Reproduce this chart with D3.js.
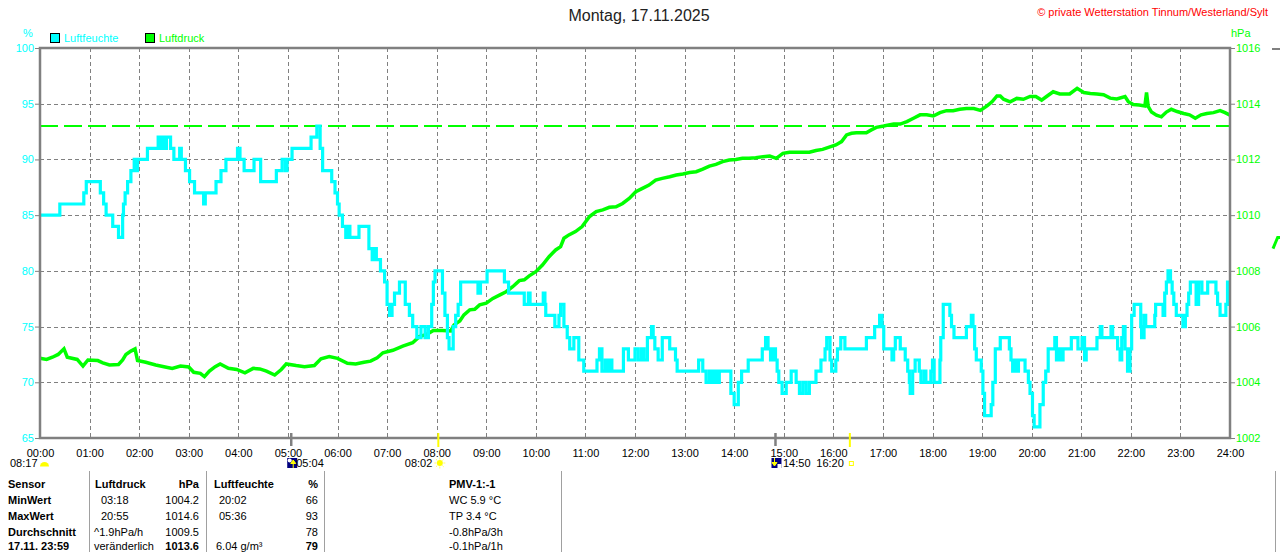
<!DOCTYPE html>
<html>
<head>
<meta charset="utf-8">
<script src="https://cdn.jsdelivr.net/npm/d3@7/dist/d3.min.js"></script>
<style>
	body { margin: 0; background: #fff; }
	svg { display: block; font-family: "Liberation Sans", Arial, sans-serif; }
</style>
</head>
<body>
<svg id="chart" width="1280" height="552"></svg>
<script>
'use strict';

// Luftfeuchte in %, step points [minute of day, value]
var humidity = [
	[0,85],[24,86],[53,87],[56,88],[73,87],[77,86],[80,85],[88,84],[95,83],[100,85],[101,86],[103,87],
	[106,88],[110,89],[114,90],[116,89],[118,90],[130,91],[143,92],[146,91],[148,92],[151,91],[153,92],
	[158,91],[162,90],[169,91],[171,90],[176,89],[181,88],[187,87],[198,86],[200,87],[213,88],[219,89],
	[225,90],[239,91],[242,90],[247,89],[259,90],[267,88],[286,89],[293,90],[297,89],[299,90],[305,91],
	[328,92],[335,93],[339,91],[342,89],[353,88],[357,87],[360,86],[362,85],[366,84],[370,83],[373,84],
	[375,83],[386,84],[398,82],[402,81],[405,82],[407,81],[412,80],[417,79],[420,77],[423,76],[426,77],
	[429,78],[435,79],[442,77],[447,76],[451,75],[456,74],[461,75],[466,74],[470,75],[474,77],[476,79],
	[478,80],[487,78],[490,76],[493,74],[495,73],[500,75],[503,76],[506,77],[509,79],[530,78],[533,79],
	[541,80],[562,79],[567,78],[586,77],[591,78],[593,77],[609,78],[611,77],[612,76],[623,75],[628,76],
	[630,77],[634,75],[638,74],[641,73],[646,74],[652,72],[658,71],[674,72],[677,73],[680,71],[684,72],
	[687,71],[690,72],[692,71],[706,73],[712,72],[720,73],[724,72],[728,73],[731,72],[735,74],[740,75],
	[742,74],[744,73],[748,72],[753,74],[762,73],[769,72],[771,71],[797,72],[802,71],[806,70],[810,71],
	[813,70],[816,71],[819,70],[822,71],[836,69],[840,68],[845,70],[849,71],[857,72],[874,73],[878,74],
	[881,73],[884,72],[887,73],[890,72],[892,71],[894,70],[898,69],[903,70],[909,71],[915,70],[919,69],
	[923,70],[927,69],[931,70],[939,71],[945,72],[950,73],[952,74],[956,72],[958,71],[963,72],[965,73],
	[969,74],[974,73],[1000,74],[1010,75],[1016,76],[1019,75],[1021,73],[1031,72],[1033,73],[1035,74],
	[1041,73],[1047,72],[1050,71],[1052,70],[1053,69],[1056,71],[1059,72],[1064,71],[1066,70],[1070,71],
	[1072,70],[1078,71],[1080,72],[1082,70],[1089,72],[1090,74],[1093,77],[1101,76],[1103,75],[1106,74],
	[1121,75],[1127,76],[1129,75],[1131,73],[1133,72],[1139,71],[1141,69],[1143,67],[1151,68],[1153,70],
	[1156,73],[1162,74],[1173,73],[1175,72],[1177,71],[1180,72],[1182,71],[1184,72],[1192,71],[1196,70],
	[1198,69],[1201,67],[1203,66],[1210,68],[1214,70],[1217,71],[1220,73],[1228,74],[1230,72],[1233,73],
	[1236,72],[1238,73],[1248,74],[1256,73],[1261,74],[1264,72],[1266,73],[1279,74],[1283,75],[1285,74],
	[1296,75],[1298,74],[1304,73],[1307,72],[1309,74],[1311,75],[1313,73],[1316,71],[1319,73],[1321,76],
	[1324,77],[1332,75],[1333,74],[1336,76],[1338,75],[1349,76],[1350,77],[1359,76],[1361,78],[1363,79],
	[1365,80],[1368,79],[1370,78],[1372,77],[1375,76],[1383,75],[1386,76],[1388,77],[1390,78],[1392,79],
	[1399,77],[1402,79],[1406,78],[1413,79],[1423,78],[1425,77],[1428,76],[1435,77],[1437,79],[1440,79]
];

// Luftdruck in hPa, [minute of day, value]
var pressure = [
	[0,1004.86],[8,1004.82],[15,1004.9],[22,1005.0],[29,1005.2],[33,1004.9],[45,1004.82],[52,1004.58],
	[58,1004.8],[70,1004.78],[76,1004.7],[84,1004.62],[95,1004.64],[100,1004.8],[104,1005.0],[110,1005.12],
	[115,1005.2],[118,1004.78],[128,1004.72],[140,1004.62],[150,1004.56],[160,1004.5],[170,1004.58],
	[180,1004.55],[186,1004.36],[194,1004.32],[199,1004.2],[205,1004.4],[212,1004.56],[218,1004.66],
	[228,1004.5],[238,1004.46],[248,1004.34],[258,1004.5],[266,1004.48],[274,1004.4],[284,1004.26],
	[292,1004.46],[298,1004.66],[310,1004.6],[320,1004.56],[332,1004.6],[340,1004.84],[350,1004.92],
	[360,1004.86],[372,1004.68],[382,1004.66],[392,1004.72],[400,1004.76],[408,1004.88],[415,1005.06],
	[427,1005.15],[439,1005.3],[451,1005.42],[459,1005.64],[468,1005.72],[476,1005.86],[487,1005.86],
	[497,1005.84],[501,1006.06],[508,1006.2],[513,1006.42],[520,1006.6],[526,1006.62],[532,1006.78],
	[540,1006.84],[548,1007.01],[556,1007.13],[564,1007.25],[572,1007.43],[580,1007.65],[586,1007.68],
	[592,1007.82],[600,1007.97],[608,1008.21],[616,1008.51],[624,1008.75],[630,1008.87],[634,1009.17],
	[640,1009.29],[648,1009.41],[656,1009.59],[665,1009.95],[673,1010.13],[681,1010.19],[689,1010.28],
	[697,1010.3],[705,1010.42],[713,1010.6],[721,1010.84],[729,1010.96],[737,1011.08],[745,1011.26],
	[753,1011.32],[762,1011.38],[770,1011.44],[778,1011.48],[786,1011.53],[794,1011.56],[802,1011.65],
	[810,1011.76],[818,1011.82],[826,1011.92],[834,1011.98],[842,1012.0],[850,1012.04],[858,1012.04],
	[866,1012.06],[875,1012.1],[883,1012.12],[891,1012.04],[899,1012.22],[907,1012.26],[915,1012.26],
	[923,1012.26],[931,1012.26],[939,1012.32],[947,1012.36],[955,1012.44],[963,1012.52],[970,1012.64],
	[976,1012.88],[982,1012.94],[988,1012.96],[1000,1012.96],[1006,1013.06],[1012,1013.15],[1021,1013.2],
	[1027,1013.24],[1033,1013.27],[1041,1013.27],[1049,1013.36],[1057,1013.48],[1065,1013.6],[1073,1013.6],
	[1081,1013.56],[1089,1013.68],[1097,1013.75],[1105,1013.75],[1113,1013.8],[1121,1013.83],[1130,1013.83],
	[1138,1013.76],[1146,1013.92],[1152,1014.07],[1158,1014.28],[1162,1014.28],[1166,1014.16],[1174,1014.07],
	[1182,1014.19],[1190,1014.16],[1198,1014.26],[1205,1014.26],[1212,1014.13],[1218,1014.26],[1226,1014.43],
	[1234,1014.35],[1246,1014.35],[1255,1014.55],[1263,1014.4],[1271,1014.37],[1279,1014.35],[1287,1014.32],
	[1295,1014.2],[1303,1014.17],[1313,1014.26],[1317,1014.07],[1323,1013.97],[1330,1013.95],[1337,1013.92],
	[1339,1014.4],[1341,1013.9],[1345,1013.7],[1351,1013.59],[1357,1013.53],[1363,1013.7],[1369,1013.8],
	[1376,1013.72],[1384,1013.65],[1391,1013.6],[1398,1013.48],[1405,1013.6],[1412,1013.65],[1420,1013.68],
	[1428,1013.75],[1434,1013.68],[1440,1013.59]
];

var reference_pressure = 1013.2;

var hour_labels = ['00:00','01:00','02:00','03:00','04:00','05:00','06:00','07:00','08:00','09:00',
	'10:00','11:00','12:00','13:00','14:00','15:00','16:00','17:00','18:00','19:00','20:00','21:00',
	'22:00','23:00','24:00'];
var humidity_ticks = [65, 70, 75, 80, 85, 90, 95, 100];
var pressure_ticks = [1002, 1004, 1006, 1008, 1010, 1012, 1014, 1016];

// Sonne und Mond
var day_length = '08:17';
var sun_events = [['rise', '08:02'], ['set', '16:20']];
var moon_events = [['rise', '05:04'], ['set', '14:50']];

// Tabelle unter dem Diagramm
var table_rows = [
	['Sensor', 'Luftdruck', 'hPa', 'Luftfeuchte', '%', 'PMV-1:-1'],
	['MinWert', '03:18', '1004.2', '20:02', '66', 'WC 5.9 °C'],
	['MaxWert', '20:55', '1014.6', '05:36', '93', 'TP 3.4 °C'],
	['Durchschnitt', '^1.9hPa/h', '1009.5', '', '78', '-0.8hPa/3h'],
	['17.11. 23:59', 'veränderlich', '1013.6', '6.04 g/m³', '79', '-0.1hPa/1h']
];

var CYAN = '#00ffff', GREEN = '#00ff00', GRAY = '#808080';

var svg = d3.select('#chart');
var plot = { left: 40, right: 1230, top: 48, bottom: 438 };

var x_scale = d3.scaleLinear().domain([0, 1440]).range([plot.left, plot.right]);
var y_hum = d3.scaleLinear().domain([65, 100]).range([plot.bottom, plot.top]);
var y_press = d3.scaleLinear().domain([1002, 1016]).range([plot.bottom, plot.top]);

function toMinutes(hhmm) {
	var p = hhmm.split(':');
	return (+p[0]) * 60 + (+p[1]);
}

svg.append('rect').attr('width', 1280).attr('height', 552).attr('fill', '#fff');

// Titel und Copyright
svg.append('text').attr('x', 639).attr('y', 21).attr('text-anchor', 'middle')
	.attr('font-size', 16).attr('fill', '#222').text('Montag, 17.11.2025');
svg.append('text').attr('x', 1268).attr('y', 16).attr('text-anchor', 'end')
	.attr('font-size', 11).attr('fill', '#ff0000').text('© private Wetterstation Tinnum/Westerland/Sylt');

// Einheiten und Legende
svg.append('text').attr('x', 23).attr('y', 37).attr('font-size', 11).attr('fill', CYAN).text('%');
svg.append('text').attr('x', 1231).attr('y', 37).attr('font-size', 11).attr('fill', GREEN).text('hPa');

var legend = [['Luftfeuchte', CYAN, 50], ['Luftdruck', GREEN, 145]];
legend.forEach(function(l) {
	svg.append('rect').attr('x', l[2] + 0.5).attr('y', 33.5).attr('width', 9).attr('height', 9)
		.attr('fill', l[1]).attr('stroke', '#000');
	svg.append('text').attr('x', l[2] + 14).attr('y', 42).attr('font-size', 11)
		.attr('fill', l[1]).text(l[0]);
});

// Gitter
var grid = svg.append('g').attr('stroke', GRAY).attr('stroke-width', 1).attr('stroke-dasharray', '4,3');
grid.selectAll('line.v').data(hour_labels.slice(1, -1)).enter().append('line')
	.attr('x1', function(d) { return Math.round(x_scale(toMinutes(d))) + 0.5; })
	.attr('x2', function(d) { return Math.round(x_scale(toMinutes(d))) + 0.5; })
	.attr('y1', plot.top).attr('y2', plot.bottom);
grid.selectAll('line.h').data(humidity_ticks.slice(1, -1)).enter().append('line')
	.attr('x1', plot.left).attr('x2', plot.right)
	.attr('y1', function(d) { return Math.round(y_hum(d)) + 0.5; })
	.attr('y2', function(d) { return Math.round(y_hum(d)) + 0.5; });

// Referenzlinie Luftdruck
svg.append('line')
	.attr('x1', plot.left).attr('x2', plot.right)
	.attr('y1', y_press(reference_pressure)).attr('y2', y_press(reference_pressure))
	.attr('stroke', GREEN).attr('stroke-width', 2).attr('stroke-dasharray', '18,6');

// Kurven
var pressure_line = d3.line()
	.x(function(d) { return x_scale(d[0]); })
	.y(function(d) { return y_press(d[1]); });
svg.append('path').datum(pressure).attr('d', pressure_line)
	.attr('fill', 'none').attr('stroke', GREEN).attr('stroke-width', 3.5);

var humidity_line = d3.line()
	.curve(d3.curveStepAfter)
	.x(function(d) { return x_scale(d[0]); })
	.y(function(d) { return y_hum(d[1]); });
svg.append('path').datum(humidity).attr('d', humidity_line)
	.attr('fill', 'none').attr('stroke', CYAN).attr('stroke-width', 3.2);

// Rahmen
svg.append('rect').attr('x', plot.left).attr('y', plot.top)
	.attr('width', plot.right - plot.left).attr('height', plot.bottom - plot.top)
	.attr('fill', 'none').attr('stroke', GRAY).attr('stroke-width', 2.5);
svg.append('line').attr('x1', plot.left - 0.5).attr('x2', plot.left - 0.5)
	.attr('y1', plot.top).attr('y2', plot.bottom).attr('stroke', GRAY).attr('stroke-width', 1);

// Achsen
function styleAxis(g, colour) {
	g.select('.domain').remove();
	g.selectAll('line').attr('stroke', GRAY);
	g.selectAll('text').attr('fill', colour).attr('font-size', 11)
		.attr('font-family', '"Liberation Sans", Arial, sans-serif');
}

svg.append('g').attr('transform', 'translate(' + plot.left + ',0)')
	.call(d3.axisLeft(y_hum).tickValues(humidity_ticks).tickSize(5).tickPadding(1))
	.call(styleAxis, CYAN);

svg.append('g').attr('transform', 'translate(' + plot.right + ',0)')
	.call(d3.axisRight(y_press).tickValues(pressure_ticks).tickSize(5).tickPadding(1)
		.tickFormat(d3.format('d')))
	.call(styleAxis, GREEN);

svg.append('g').attr('transform', 'translate(0,' + plot.bottom + ')')
	.call(d3.axisBottom(x_scale).tickValues(hour_labels.map(toMinutes)).tickSize(0).tickPadding(11)
		.tickFormat(function(d, i) { return hour_labels[i]; }))
	.call(styleAxis, '#000');

// Sonne / Mond Markierungen
var marks = svg.append('g').attr('font-size', 11);

marks.append('text').attr('x', 10).attr('y', 467).attr('fill', '#000').text(day_length);
marks.append('path').attr('d', d3.arc()({ innerRadius: 0, outerRadius: 4.5, startAngle: -Math.PI / 2, endAngle: Math.PI / 2 }))
	.attr('transform', 'translate(44.5,466.5)').attr('fill', '#ffff00');

moon_events.forEach(function(m) {
	var xm = x_scale(toMinutes(m[1]));
	marks.append('line').attr('x1', xm).attr('x2', xm).attr('y1', 433).attr('y2', 446)
		.attr('stroke', GRAY).attr('stroke-width', 2.5);
	var icon = marks.append('g').attr('transform', 'translate(' + (xm - 4) + ',458)');
	icon.append('rect').attr('width', 10).attr('height', 10).attr('fill', '#00007f');
	if (m[0] === 'rise') {
		icon.append('circle').attr('cx', 2.5).attr('cy', 2.5).attr('r', 2).attr('fill', '#fff');
		icon.append('path').attr('d', 'M6,10V4M3.5,5.5L6,2L8.5,5.5Z').attr('stroke', '#ffff00').attr('fill', '#ffff00');
	} else {
		icon.append('rect').attr('x', 6).attr('y', 6).attr('width', 4).attr('height', 4).attr('fill', '#fff');
		icon.append('path').attr('d', 'M3,0V6M0.5,4.5L3,8L5.5,4.5Z').attr('stroke', '#ffff00').attr('fill', '#ffff00');
	}
	marks.append('text').attr('x', xm + (m[0] === 'rise' ? 5 : 7.5)).attr('y', 467).attr('fill', '#000').text(m[1]);
});

sun_events.forEach(function(s) {
	var xs = x_scale(toMinutes(s[1]));
	marks.append('line').attr('x1', xs).attr('x2', xs).attr('y1', 433).attr('y2', 447)
		.attr('stroke', '#ffff00').attr('stroke-width', 2);
	marks.append('text').attr('x', xs - 6).attr('y', 467).attr('text-anchor', 'end')
		.attr('fill', '#000').text(s[1]);
	if (s[0] === 'rise') {
		var sun = marks.append('g').attr('transform', 'translate(' + (xs + 1.5) + ',463)');
		sun.append('circle').attr('r', 3).attr('fill', '#ffff00');
		d3.range(8).forEach(function(k) {
			var a = k * Math.PI / 4;
			sun.append('line').attr('x1', Math.cos(a) * 3.5).attr('y1', Math.sin(a) * 3.5)
				.attr('x2', Math.cos(a) * 5.5).attr('y2', Math.sin(a) * 5.5)
				.attr('stroke', '#ffff66').attr('stroke-width', 1);
		});
	} else {
		marks.append('rect').attr('x', xs - 0.5).attr('y', 461.5).attr('width', 4).attr('height', 4)
			.attr('fill', 'none').attr('stroke', '#ffff00');
	}
});

// Tabelle
var col_x = [8, 95, 199, 214, 318, 449];
var col_anchor = ['start', 'start', 'end', 'start', 'end', 'start'];
var col_shift = [[0, 0, 0, 0, 0, 0], [0, 6, 0, 5, 0, 0], [0, 6, 0, 5, 0, 0], [0, -1, 0, 5, 0, 0], [0, -1, 0, 2, 0, 0]];
var row_y = [488, 504, 520, 535.5, 549.5];

var table = svg.append('g').attr('font-size', 11).attr('fill', '#000');
table_rows.forEach(function(row, r) {
	row.forEach(function(cell, c) {
		var bold = r === 0 || c === 0 || (r === table_rows.length - 1 && (c === 2 || c === 4));
		table.append('text')
			.attr('x', col_x[c] + col_shift[r][c]).attr('y', row_y[r])
			.attr('text-anchor', col_anchor[c])
			.attr('font-weight', bold ? 'bold' : 'normal')
			.text(cell);
	});
});
[89, 206, 324, 561, 1275].forEach(function(xl) {
	table.append('line').attr('x1', xl + 0.5).attr('x2', xl + 0.5).attr('y1', 471).attr('y2', 552)
		.attr('stroke', '#a0a0a0').attr('stroke-width', 1);
});

// angeschnittenes Nachbardiagramm am rechten Rand
svg.append('line').attr('x1', 1272).attr('x2', 1280).attr('y1', 49).attr('y2', 49)
	.attr('stroke', GRAY).attr('stroke-width', 2);
var next_panel_pressure = [1008.8, 1009.0, 1009.2, 1009.2];
var next_x = d3.scaleLinear().domain([0, 3]).range([1273, 1280]);
svg.append('path').datum(next_panel_pressure)
	.attr('d', d3.line().x(function(d, i) { return next_x(i); }).y(function(d) { return y_press(d); }))
	.attr('fill', 'none').attr('stroke', GREEN).attr('stroke-width', 3);
</script>
</body>
</html>
